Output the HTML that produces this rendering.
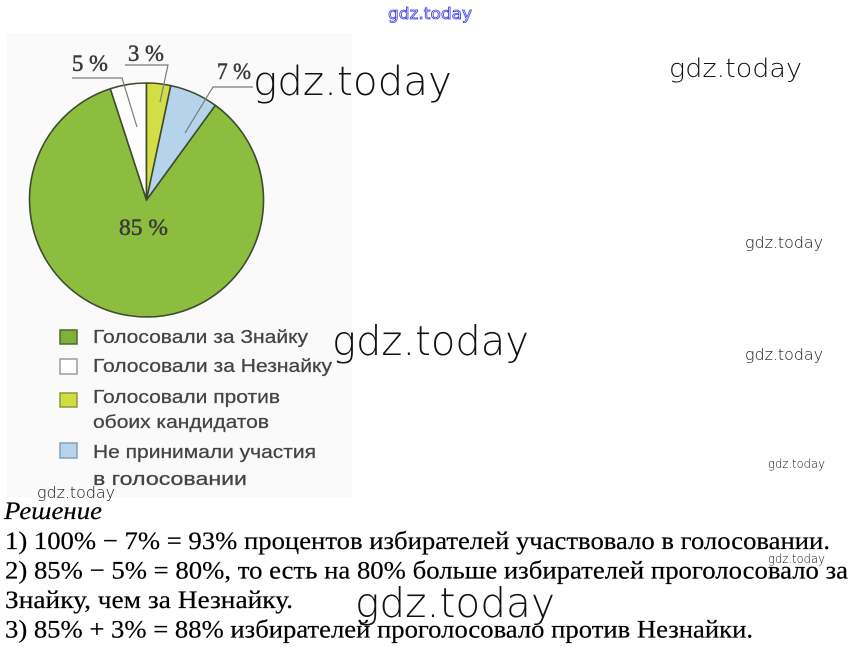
<!DOCTYPE html>
<html>
<head>
<meta charset="utf-8">
<style>
html,body{margin:0;padding:0;background:#fff;}
svg{display:block;}
.wm{font-family:"DejaVu Sans","Liberation Sans",sans-serif;font-weight:200;fill:#111;}
.lab{font-family:"Liberation Serif",serif;fill:#3a3a3a;stroke:#3a3a3a;stroke-width:0.5;}
.leg{font-family:"Liberation Sans","DejaVu Sans",sans-serif;fill:#444;stroke:#444;stroke-width:0.25;}
.sol{font-family:"Liberation Serif","DejaVu Serif",serif;fill:#000;stroke:#000;stroke-width:0.2;}
</style>
</head>
<body>
<svg width="857" height="659" viewBox="0 0 857 659" xmlns="http://www.w3.org/2000/svg">
  <rect x="0" y="0" width="857" height="659" fill="#ffffff"/>
  <!-- scanned region -->
  <rect x="7" y="33" width="345" height="464" fill="#fafafa"/>

  <!-- pie -->
  <g stroke="#3e4a30" stroke-width="1.6" stroke-linejoin="round">
    <path d="M146.5,200 L215.3,105.3 A117,117 0 1 1 110.3,88.7 Z" fill="#8dbd3f"/>
    <path d="M146.5,200 L110.3,88.7 A117,117 0 0 1 146.5,83 Z" fill="#fdfdfd"/>
    <path d="M146.5,200 L146.5,83 A117,117 0 0 1 170.8,85.6 Z" fill="#d3de45"/>
    <path d="M146.5,200 L170.8,85.6 A117,117 0 0 1 215.3,105.3 Z" fill="#b6d3ec"/>
  </g>

  <!-- leader lines -->
  <g stroke="#7a7a7a" stroke-width="1.2" fill="none">
    <polyline points="72,78 122,78 137,127"/>
    <polyline points="125,65 168,65 160,102"/>
    <polyline points="253,87 213,87 185,133"/>
  </g>

  <!-- labels -->
  <text class="lab" x="72" y="71" font-size="23" textLength="36" lengthAdjust="spacingAndGlyphs">5 %</text>
  <text class="lab" x="128" y="61" font-size="23" textLength="36" lengthAdjust="spacingAndGlyphs">3 %</text>
  <text class="lab" x="217" y="79" font-size="23" textLength="34" lengthAdjust="spacingAndGlyphs">7 %</text>
  <text class="lab" x="119" y="235" font-size="23" textLength="49" lengthAdjust="spacingAndGlyphs" fill="#2f3a22" stroke="#2f3a22">85 %</text>

  <!-- legend -->
  <rect x="60" y="330" width="17" height="14" fill="#7fb03a" stroke="#4a6a2a" stroke-width="1.5"/>
  <rect x="60" y="359" width="17" height="15" fill="#ffffff" stroke="#9a9a9a" stroke-width="1.5"/>
  <rect x="60" y="393" width="17" height="14" fill="#d2dc45" stroke="#8c9a30" stroke-width="1.5"/>
  <rect x="60" y="443" width="17" height="15" fill="#b8d4ec" stroke="#80a0bc" stroke-width="1.5"/>

  <text class="leg" x="93" y="343" font-size="18.5" textLength="215" lengthAdjust="spacingAndGlyphs">Голосовали за Знайку</text>
  <text class="leg" x="93" y="372" font-size="18.5" textLength="239" lengthAdjust="spacingAndGlyphs">Голосовали за Незнайку</text>
  <text class="leg" x="93" y="403" font-size="18.5" textLength="187" lengthAdjust="spacingAndGlyphs">Голосовали против</text>
  <text class="leg" x="93" y="428" font-size="18.5" textLength="176" lengthAdjust="spacingAndGlyphs">обоих кандидатов</text>
  <text class="leg" x="93" y="458" font-size="18.5" textLength="223" lengthAdjust="spacingAndGlyphs">Не принимали участия</text>
  <text class="leg" x="93" y="485" font-size="18.5" textLength="154" lengthAdjust="spacingAndGlyphs">в голосовании</text>

  <!-- solution text -->
  <text class="sol" x="4" y="519" font-size="25" font-style="italic" textLength="98" lengthAdjust="spacingAndGlyphs">Решение</text>
  <text class="sol" x="5" y="549" font-size="25" textLength="825" lengthAdjust="spacingAndGlyphs">1) 100% − 7% = 93% процентов избирателей участвовало в голосовании.</text>
  <text class="sol" x="5" y="578.5" font-size="25" textLength="843" lengthAdjust="spacingAndGlyphs">2) 85% − 5% = 80%, то есть на 80% больше избирателей проголосовало за</text>
  <text class="sol" x="5" y="608" font-size="25" textLength="288" lengthAdjust="spacingAndGlyphs">Знайку, чем за Незнайку.</text>
  <text class="sol" x="5" y="637.5" font-size="25" textLength="748" lengthAdjust="spacingAndGlyphs">3) 85% + 3% = 88% избирателей проголосовало против Незнайки.</text>

  <!-- watermarks -->
  <text x="388" y="19" font-family="DejaVu Sans, Liberation Sans, sans-serif" font-size="16" fill="#ffffff" stroke="#3a3aee" stroke-width="0.8" textLength="84" lengthAdjust="spacingAndGlyphs">gdz.today</text>
  <text class="wm" x="253" y="95" font-size="40" textLength="199" lengthAdjust="spacingAndGlyphs">gdz.today</text>
  <text class="wm" x="669" y="77" font-size="26" textLength="133" lengthAdjust="spacingAndGlyphs">gdz.today</text>
  <text class="wm" x="745" y="248" font-size="16" textLength="78" lengthAdjust="spacingAndGlyphs">gdz.today</text>
  <text class="wm" x="332" y="355" font-size="41" textLength="197" lengthAdjust="spacingAndGlyphs">gdz.today</text>
  <text class="wm" x="745" y="360" font-size="16" textLength="78" lengthAdjust="spacingAndGlyphs">gdz.today</text>
  <text class="wm" x="768" y="468" font-size="12" textLength="57" lengthAdjust="spacingAndGlyphs">gdz.today</text>
  <text class="wm" x="37" y="498" font-size="16" textLength="78" lengthAdjust="spacingAndGlyphs">gdz.today</text>
  <text class="wm" x="768" y="563" font-size="12" textLength="57" lengthAdjust="spacingAndGlyphs">gdz.today</text>
  <text class="wm" x="355" y="617" font-size="41" textLength="200" lengthAdjust="spacingAndGlyphs">gdz.today</text>
</svg>
</body>
</html>
